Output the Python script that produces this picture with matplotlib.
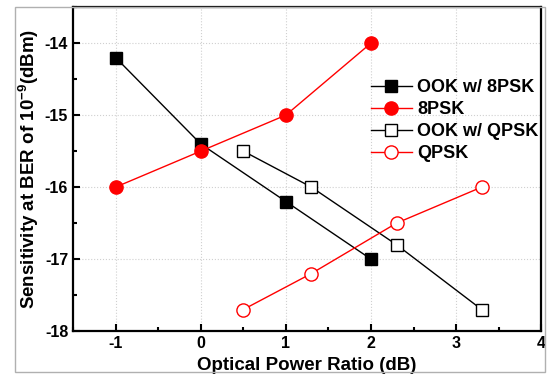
import matplotlib
matplotlib.use('Agg')
import matplotlib.pyplot as plt
from matplotlib.patches import Rectangle
from matplotlib.ticker import MultipleLocator

plt.rcParams['font.family'] = ['Liberation Sans', 'DejaVu Sans']
plt.rcParams['font.weight'] = 'bold'
plt.rcParams['axes.unicode_minus'] = False
plt.rcParams['mathtext.fontset'] = 'custom'
plt.rcParams['mathtext.rm'] = 'Liberation Sans:bold'
plt.rcParams['mathtext.it'] = 'Liberation Sans:bold'
plt.rcParams['mathtext.bf'] = 'Liberation Sans:bold'

# data
x_8psk = [-1, 0, 1, 2]
ook_8psk = [-14.2, -15.4, -16.2, -17.0]
psk8 = [-16.0, -15.5, -15.0, -14.0]

x_qpsk = [0.5, 1.3, 2.3, 3.3]
ook_qpsk = [-15.5, -16.0, -16.8, -17.7]
qpsk = [-17.7, -17.2, -16.5, -16.0]

fig = plt.figure(figsize=(5.47, 3.75), dpi=100)
ax = fig.add_axes([0.1335, 0.117, 0.856, 0.864])

# light grey frame around the whole picture
fig.patches.append(Rectangle((15 / 547, 3 / 375), 530 / 547, 365 / 375,
                             transform=fig.transFigure, fill=False,
                             edgecolor='#b0b0b0', linewidth=1))

ax.plot(x_8psk, ook_8psk, color='black', marker='s', markersize=8,
        linewidth=1, label='OOK w/ 8PSK')
ax.plot(x_8psk, psk8, color='red', marker='o', markersize=9.5,
        linewidth=1, label='8PSK')
ax.plot(x_qpsk, ook_qpsk, color='black', marker='s', markersize=8,
        markerfacecolor='white', linewidth=1, label='OOK w/ QPSK')
ax.plot(x_qpsk, qpsk, color='red', marker='o', markersize=9.5,
        markerfacecolor='white', linewidth=1, label='QPSK')

ax.set_xlim(-1.5, 4)
ax.set_ylim(-18, -13.5)
ax.xaxis.set_major_locator(MultipleLocator(1))
ax.xaxis.set_minor_locator(MultipleLocator(0.5))
ax.yaxis.set_major_locator(MultipleLocator(1))
ax.yaxis.set_minor_locator(MultipleLocator(0.5))
ax.tick_params(which='both', direction='in', labelsize=11.5, width=1.5)
ax.tick_params(which='major', length=5)
ax.tick_params(which='minor', length=3)
ax.grid(which='major', color='#d0d0d0', linestyle=':', linewidth=0.8)
for s in ax.spines.values():
    s.set_linewidth(1.6)

ax.set_xlabel('Optical Power Ratio (dB)', fontsize=13.5, fontweight='bold', labelpad=4)
ax.set_ylabel(r'Sensitivity at BER of 10$^{-9}$(dBm)', fontsize=13.5,
              fontweight='bold', labelpad=3)

ax.legend(loc='center left', bbox_to_anchor=(0.62, 0.65), frameon=False,
          fontsize=13, handlelength=2.3, handletextpad=0.3, labelspacing=0.28,
          borderaxespad=0)

fig.savefig('out.png', dpi=100)
